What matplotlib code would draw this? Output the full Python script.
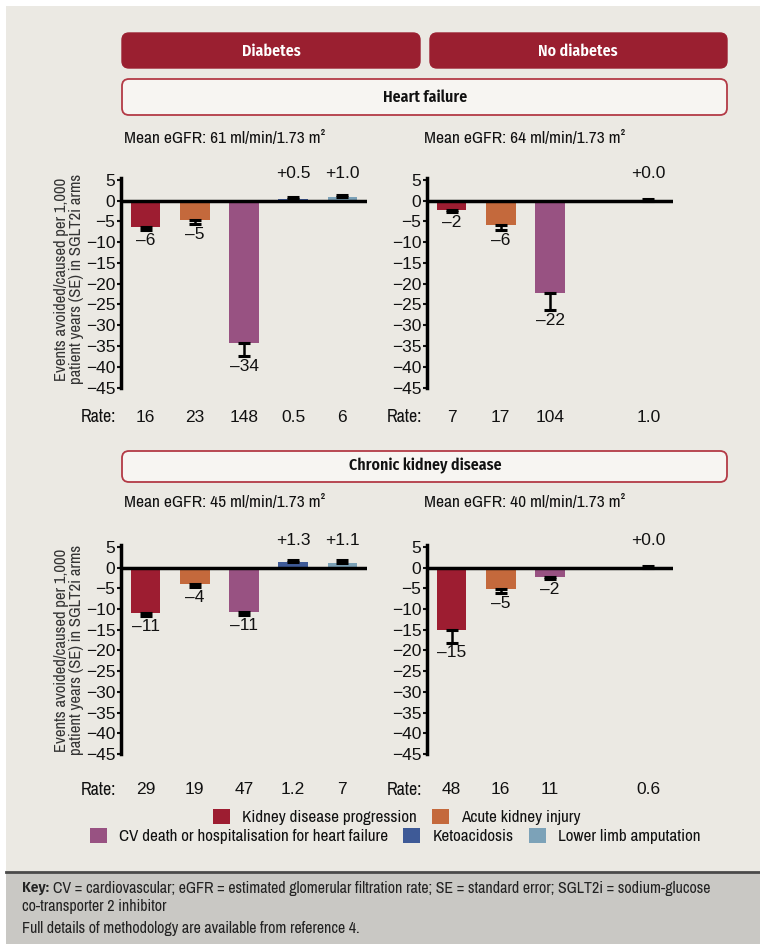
import matplotlib
matplotlib.use('Agg')
import matplotlib.pyplot as plt
import matplotlib.transforms as mtransforms
from matplotlib.patches import FancyBboxPatch, Rectangle, Patch
import numpy as np

plt.rcParams['font.family'] = ['Archivo Narrow', 'Liberation Sans', 'DejaVu Sans']

# data
categories = ['Kidney disease progression', 'Acute kidney injury',
              'CV death or hospitalisation for heart failure', 'Ketoacidosis',
              'Lower limb amputation']
colors = ['#9d1d31', '#c4693c', '#985282', '#3e5a97', '#7ca2b8']

hf_diab = [-6.3, -4.7, -34.3, 0.5, 1.0]
hf_diab_se = [0.7, 0.9, 3.1, 0.3, 0.5]
hf_diab_rate = ['16', '23', '148', '0.5', '6']

hf_nodiab = [-2.2, -5.9, -22.3, np.nan, 0.0]
hf_nodiab_se = [0.6, 1.2, 4.1, np.nan, 0.4]
hf_nodiab_rate = ['7', '17', '104', '', '1.0']

ckd_diab = [-11.0, -4.0, -10.7, 1.3, 1.1]
ckd_diab_se = [0.7, 0.6, 0.8, 0.6, 0.7]
ckd_diab_rate = ['29', '19', '47', '1.2', '7']

ckd_nodiab = [-15.1, -5.2, -2.2, np.nan, 0.0]
ckd_nodiab_se = [3.0, 1.0, 0.6, np.nan, 0.3]
ckd_nodiab_rate = ['48', '16', '11', '', '0.6']

egfr = ['61', '64', '45', '40']
yticks = list(range(5, -50, -5))

W, H = 760, 944
BEIGE = '#ebe9e3'
RED = '#9a1f30'
NUM_FONT = ['Liberation Sans', 'DejaVu Sans']
BOLD_FONT = ['Fira Sans Condensed', 'Archivo Narrow', 'DejaVu Sans']


def fx(px):
    return px / W


def fy(py):
    return 1 - py / H


fig = plt.figure(figsize=(W / 100, H / 100), dpi=100)
fig.patch.set_facecolor('white')

# background panels
fig.add_artist(Rectangle((fx(6), fy(872)), 1, fy(6) - fy(872), transform=fig.transFigure,
                         facecolor=BEIGE, edgecolor='none', zorder=-10))
fig.add_artist(Rectangle((fx(6), 0), 1, fy(872), transform=fig.transFigure,
                         facecolor='#c9c8c4', edgecolor='none', zorder=-10))
fig.add_artist(plt.Line2D([fx(6), 1], [fy(872), fy(872)], transform=fig.transFigure,
                          color='#4a4a4a', lw=2))


def box(x0, y0, x1, y1, face, edge, lw):
    p = FancyBboxPatch((x0 / 100, (H - y1) / 100), (x1 - x0) / 100, (y1 - y0) / 100,
                       boxstyle='round,pad=0,rounding_size=0.07',
                       transform=fig.dpi_scale_trans, facecolor=face, edgecolor=edge,
                       lw=lw, zorder=-5)
    fig.add_artist(p)


box(122, 33, 420, 68, RED, RED, 1)
box(430, 33, 727, 68, RED, RED, 1)
box(122, 79, 727, 115, '#f7f5f2', '#b33a46', 1.3)
box(122, 451, 727, 482, '#f7f5f2', '#b33a46', 1.3)
fig.text(fx(271), fy(51), 'Diabetes', color='white', fontsize=11.5, fontweight='semibold',
         family=BOLD_FONT, ha='center', va='center')
fig.text(fx(578), fy(51), 'No diabetes', color='white', fontsize=11.5, fontweight='semibold',
         family=BOLD_FONT, ha='center', va='center')
fig.text(fx(425), fy(97), 'Heart failure', color='#111111', fontsize=11.5,
         fontweight='semibold', family=BOLD_FONT, ha='center', va='center')
fig.text(fx(425), fy(466), 'Chronic kidney disease', color='#111111', fontsize=11.5,
         fontweight='semibold', family=BOLD_FONT, ha='center', va='center')


def draw_panel(ax, vals, se, rates, rate_y):
    x = np.arange(len(vals))
    vals = np.array(vals, float)
    se = np.array(se, float)
    ax.bar(x, vals, width=0.6, color=colors, zorder=2)
    lower = np.where(vals < 0, se, 0)
    upper = np.where(vals >= 0, se, 0)
    ax.errorbar(x, vals, yerr=[lower, upper], fmt='none', ecolor='black',
                elinewidth=1.8, capsize=4.5, capthick=2.2, zorder=3)
    ax.axhline(0, color='black', lw=2.5, zorder=4)
    ax.set_xlim(-0.5, 4.5)
    ax.set_ylim(-45, 5.6)
    ax.set_yticks(yticks)
    ax.set_xticks([])
    ax.set_facecolor('none')
    for s in ['top', 'right', 'bottom']:
        ax.spines[s].set_visible(False)
    ax.spines['left'].set_linewidth(2.5)
    ax.tick_params(axis='y', length=3, width=1.5, labelsize=12.5, pad=1, colors='#111111')
    for lbl in ax.get_yticklabels():
        lbl.set_fontfamily(NUM_FONT)
    for xi, v, s in zip(x, vals, se):
        if np.isnan(v):
            continue
        if v < 0:
            ax.annotate('–%d' % abs(round(v)), (xi, v - s), xytext=(0, -2),
                        textcoords='offset points', ha='center', va='top',
                        fontsize=12.5, family=NUM_FONT, color='#111111')
        else:
            ax.text(xi, 6.6, '+%.1f' % v, ha='center', va='center', fontsize=12.5,
                    family=NUM_FONT, color='#111111', clip_on=False)
    trans = mtransforms.blended_transform_factory(ax.transData, fig.transFigure)
    ax.text(-0.6, fy(rate_y), 'Rate:', transform=trans, ha='right', va='center',
            fontsize=13, color='#111111')
    for xi, r in zip(x, rates):
        ax.text(xi, fy(rate_y), r, transform=trans, ha='center', va='center',
                fontsize=12.5, family=NUM_FONT, color='#111111')


ax_w = 246 / W
ax1 = fig.add_axes([fx(121), fy(387.5), ax_w, 210 / H])
ax2 = fig.add_axes([fx(427), fy(387.5), ax_w, 210 / H])
ax3 = fig.add_axes([fx(121), fy(754), ax_w, 209.5 / H])
ax4 = fig.add_axes([fx(427), fy(754), ax_w, 209.5 / H])

draw_panel(ax1, hf_diab, hf_diab_se, hf_diab_rate, 417)
draw_panel(ax2, hf_nodiab, hf_nodiab_se, hf_nodiab_rate, 417)
draw_panel(ax3, ckd_diab, ckd_diab_se, ckd_diab_rate, 790)
draw_panel(ax4, ckd_nodiab, ckd_nodiab_se, ckd_nodiab_rate, 790)

for (cx, cy), e in zip([(225, 138), (525, 138), (225, 503), (525, 503)], egfr):
    fig.text(fx(cx), fy(cy), 'Mean eGFR: %s ml/min/1.73 m²' % e, ha='center', va='center',
             fontsize=12.5, color='#111111')

ylab = 'Events avoided/caused per 1,000\npatient years (SE) in SGLT2i arms'
for cy in [279, 650]:
    fig.text(fx(69), fy(cy), ylab, rotation=90, ha='center', va='center',
             multialignment='center', fontsize=12, color='#333333', linespacing=1.0)

handles = [Patch(facecolor=c, edgecolor='none') for c in colors]
leg_kw = dict(loc='center', frameon=False, handlelength=1.0, handleheight=1.0,
              columnspacing=0.9, handletextpad=0.7, fontsize=12.3, borderpad=0,
              labelcolor='#111111')
fig.legend(handles[:2], categories[:2], bbox_to_anchor=(fx(397), fy(817)), ncol=2, **leg_kw)
fig.legend(handles[2:], categories[2:], bbox_to_anchor=(fx(395), fy(836)), ncol=3, **leg_kw)

key = fig.text(fx(22), fy(888), 'Key:', fontweight='semibold', family=BOLD_FONT,
               fontsize=11, va='center', color='#222222')
ax1.annotate('CV = cardiovascular; eGFR = estimated glomerular filtration rate; '
             'SE = standard error; SGLT2i = sodium-glucose',
             xy=(1, 0.5), xycoords=key, xytext=(3, 0), textcoords='offset points',
             va='center', ha='left', fontsize=11.5, color='#222222', annotation_clip=False)
fig.text(fx(22), fy(906), 'co-transporter 2 inhibitor', fontsize=11.5, va='center',
         color='#222222')
fig.text(fx(22), fy(928), 'Full details of methodology are available from reference 4.',
         fontsize=11.5, va='center', color='#222222')

fig.savefig('out.png', dpi=100)
